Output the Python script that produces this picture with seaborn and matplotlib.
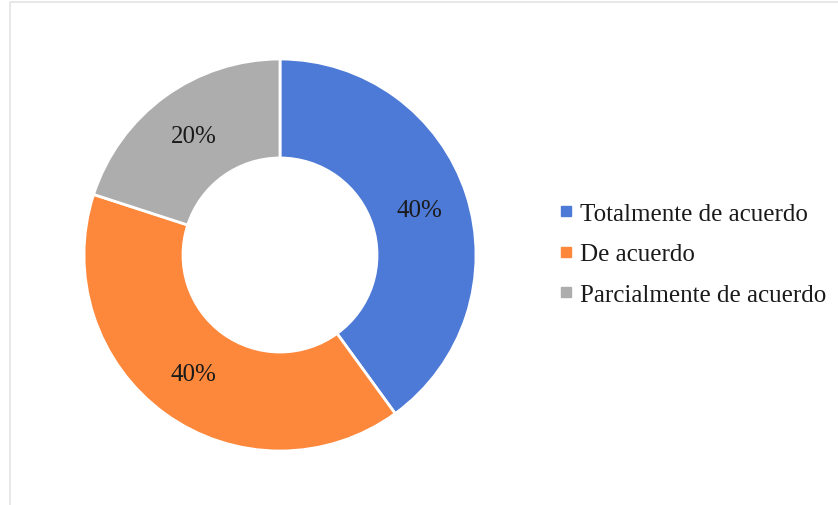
import matplotlib.pyplot as plt
import matplotlib.patches as mpatches
from matplotlib.lines import Line2D
import seaborn as sns

categories = ['Totalmente de acuerdo', 'De acuerdo', 'Parcialmente de acuerdo']
shares = [40, 40, 20]
colors = ['#4D7AD6', '#FD873A', '#ADADAD']

sns.set_theme(style='white')
plt.rcParams['font.family'] = ['Liberation Serif', 'DejaVu Serif']

W, H = 838, 506
fig = plt.figure(figsize=(W / 100, H / 100), dpi=100)

# faint frame of the chart area
fig.patches.append(mpatches.Rectangle((10 / W, -0.1), 1.2, 1.1 - 3 / H,
                                      transform=fig.transFigure, fill=False,
                                      edgecolor='#E4E4E4', lw=1.2))

cx, cy, r = 280, 256, 196
ax = fig.add_axes([(cx - r) / W, (H - cy - r) / H, 2 * r / W, 2 * r / H])
wedges, texts, autotexts = ax.pie(
    shares, colors=colors, startangle=90, counterclock=False,
    autopct='%d%%', pctdistance=0.75,
    wedgeprops=dict(width=0.505, edgecolor='white', linewidth=2),
    textprops=dict(fontsize=18, color='#1a1a1a'))
ax.set_xlim(-1, 1)
ax.set_ylim(-1, 1)
ax.set_aspect('equal')
ax.axis('off')

handles = [Line2D([], [], marker='s', ls='', color=c, markersize=6.5) for c in colors]
fig.legend(handles, categories, loc='center left',
           bbox_to_anchor=(560 / W, 1 - 255 / H), frameon=False,
           fontsize=18, labelspacing=0.72, handlelength=0.5,
           handletextpad=0.3, borderpad=0, borderaxespad=0,
           labelcolor='#1a1a1a')

fig.savefig('out.png', dpi=100, facecolor='white')
